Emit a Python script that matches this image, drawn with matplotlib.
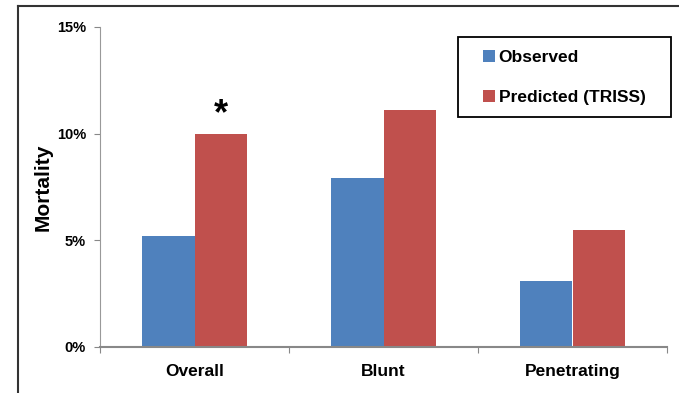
import matplotlib.pyplot as plt
import numpy as np
from matplotlib.lines import Line2D
from matplotlib.patches import Rectangle

categories = ['Overall', 'Blunt', 'Penetrating']
observed = [5.2, 7.9, 3.1]
predicted = [10.0, 11.1, 5.5]
yticks = [0, 5, 10, 15]

plt.rcParams['font.family'] = ['Liberation Sans', 'DejaVu Sans']
plt.rcParams['font.weight'] = 'bold'

fig = plt.figure(figsize=(6.79, 3.93), dpi=100)
W, H = 679, 393
ax = fig.add_axes([100 / W, 1 - 347 / H, 567 / W, 320 / H])

x = np.arange(len(categories))
w = 0.28
ax.bar(x - w / 2, observed, w, color='#4f81bd', label='Observed')
ax.bar(x + w / 2, predicted, w, color='#c0504d', label='Predicted (TRISS)')

ax.set_xlim(-0.5, 2.5)
ax.set_ylim(0, 15)
ax.set_yticks(yticks)
ax.set_yticklabels([f'{v}%' for v in yticks], fontsize=10.5, fontweight='bold')
ax.set_xticks(np.arange(-0.5, 3, 1))
ax.set_xticklabels([])
ax.set_xticks(x, minor=True)
ax.set_xticklabels(categories, minor=True, fontsize=12.5, fontweight='bold')
ax.tick_params(axis='x', which='minor', length=0, pad=12)
ax.tick_params(axis='x', which='major', length=4, color='#888888', direction='out')
ax.tick_params(axis='y', length=4, color='#888888', pad=6)

for s in ['top', 'right']:
    ax.spines[s].set_visible(False)
ax.spines['left'].set_color('#999999')
ax.spines['bottom'].set_color('#888888')
ax.spines['bottom'].set_linewidth(1.5)

ax.set_ylabel('Mortality', fontsize=15, fontweight='bold')
ax.yaxis.set_label_coords(-0.083, 0.5)

ax.text(x[0] + w / 2, 10.9, '*', fontsize=26, fontweight='bold', ha='center', va='center')

leg = ax.legend(loc='upper left', bbox_to_anchor=(483 / W, 1 - 50 / H),
                bbox_transform=fig.transFigure, fontsize=12.5, frameon=False,
                handlelength=0.7, handleheight=0.7, handletextpad=0.2,
                labelspacing=1.45, borderpad=0, borderaxespad=0)
for t in leg.get_texts():
    t.set_fontweight('bold')

fig.add_artist(Rectangle((458 / W, 1 - 117 / H), (671 - 458) / W, 80 / H,
                         transform=fig.transFigure, fill=False, edgecolor='black', lw=1.3))

# outer frame lines
fig.add_artist(Line2D([18 / W, 1], [1 - 6 / H, 1 - 6 / H], color='#333333', lw=1.5))
fig.add_artist(Line2D([18 / W, 18 / W], [0, 1 - 6 / H], color='#333333', lw=1.5))

fig.savefig('out.png', dpi=100)
